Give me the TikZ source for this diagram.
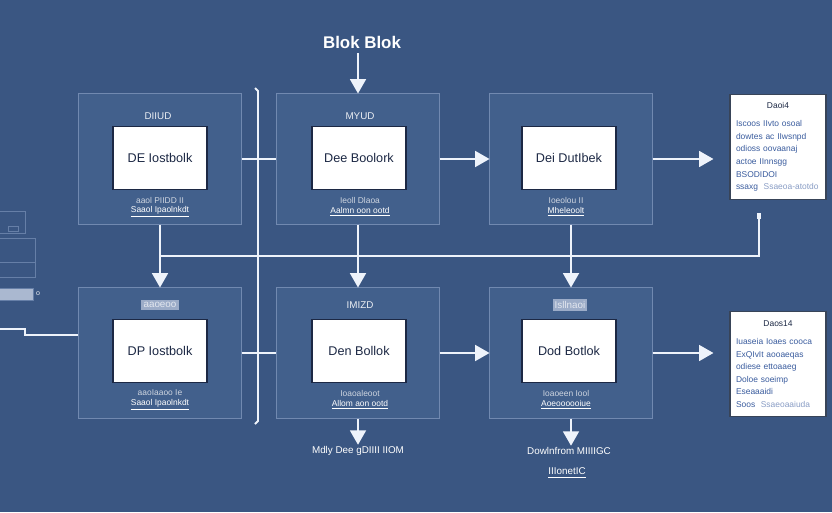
\documentclass[tikz,border=0pt]{standalone}
\usepackage{fontspec}
\setmainfont{Liberation Sans}
\usetikzlibrary{arrows.meta,positioning}
\definecolor{bgblue}{HTML}{3A5682}
\definecolor{panelblue}{HTML}{42608C}
\definecolor{edgeblue}{HTML}{7189B0}
\definecolor{inkblue}{HTML}{1C2844}
\definecolor{wireclr}{HTML}{EEF3FB}
\definecolor{notetext}{HTML}{3A5C9E}

\tikzset{
  panel/.style={rectangle, draw=edgeblue, fill=panelblue, line width=0.7pt,
                minimum width=4.05cm, minimum height=3.25cm},
  card/.style={rectangle, draw=inkblue, fill=white, line width=0.8pt,
               minimum width=2.35cm, minimum height=1.58cm,
               font=\small, text=inkblue},
  tag/.style={font=\scriptsize, text=white!90!bgblue, inner sep=1.5pt},
  caption/.style={font=\fontsize{6}{6.6}\selectfont, text=white, align=center, inner sep=1pt},
  note/.style={rectangle, draw=edgeblue!50!black, fill=white, line width=0.8pt,
               minimum width=2.4cm, minimum height=2.63cm, text width=2.1cm,
               font=\fontsize{6}{9}\selectfont, text=notetext},
  ghost/.style={draw=edgeblue!80!bgblue, line width=0.6pt},
  wire/.style={draw=wireclr, line width=1.3pt},
  flow/.style={wire, -{Triangle[length=3.6mm, width=4mm]}},
}

\begin{document}
\begin{tikzpicture}[x=0.025cm, y=-0.025cm]
  % canvas is 832 x 512 px, y runs downward
  \useasboundingbox (0,0) rectangle (832,512);
  \fill[bgblue] (0,0) rectangle (832,512);

  % title feeding the top middle block
  \node[font=\large\bfseries, text=white] (title) at (362,42) {Blok Blok};

  % two rows of blocks
  \node[panel] (blkA) at (160,159) {};
  \node[panel] (blkB) at (358,159) {};
  \node[panel] (blkC) at (571,159) {};
  \node[panel] (blkD) at (160,353) {};
  \node[panel] (blkE) at (358,353) {};
  \node[panel] (blkF) at (571,353) {};

  % white cards inside the blocks
  \node[card] (cardA) at (160,158) {DE Iostbolk};
  \node[card] (cardB) at (359,158) {Dee Boolork};
  \node[card] (cardC) at (569,158) {Dei DutIbek};
  \node[card] (cardD) at (160,351) {DP Iostbolk};
  \node[card] (cardE) at (359,351) {Den Bollok};
  \node[card] (cardF) at (569,351) {Dod Botlok};

  % header tags
  \node[tag] (tagA) at (158,116) {DIIUD};
  \node[tag] (tagB) at (360,116) {MYUD};
  \node[tag, fill=edgeblue!70, text=white!80!edgeblue] (tagD) at (160,305) {aaoeoo};
  \node[tag] (tagE) at (360,305) {IMIZD};
  \node[tag, fill=edgeblue!70, text=white!80!edgeblue] (tagF) at (570,305) {Isllnaoi};

  % captions below the cards
  \node[caption] (capA) at (160,207) {{\color{white!75!bgblue}aaol PIIDD II}\\\underline{Saaol Ipaolnkdt}};
  \node[caption] (capB) at (360,207) {{\color{white!75!bgblue}Ieoll Dlaoa}\\\underline{Aalmn oon ootd}};
  \node[caption] (capC) at (566,207) {{\color{white!75!bgblue}Ioeolou II}\\\underline{Mheleoolt}};
  \node[caption] (capD) at (160,400) {{\color{white!75!bgblue}aaoIaaoo Ie}\\\underline{Saaol Ipaolnkdt}};
  \node[caption] (capE) at (360,400) {{\color{white!75!bgblue}Ioaoaleoot}\\\underline{Allom aon ootd}};
  \node[caption] (capF) at (566,400) {{\color{white!75!bgblue}Ioaoeen Iool}\\\underline{Aoeoooooiue}};

  % notes on the right
  \node[note] (noteA) at (778,147) {\centering{\color{inkblue}Daoi4}\par\vspace{4pt}\raggedright
    Iscoos IIvto osoal\\dowtes ac IIwsnpd\\odioss oovaanaj\\actoe IInnsgg\\BSODIDOI\\ssaxg\hspace{4pt}{\color{notetext!60}Ssaeoa-atotdo}};
  \node[note] (noteB) at (778,364) {\centering{\color{inkblue}Daos14}\par\vspace{4pt}\raggedright
    Iuaseia Ioaes cooca\\ExQIvIt aooaeqas\\odiese ettoaaeg\\Doloe soeimp\\Eseaaaidi\\Soos\hspace{4pt}{\color{notetext!60}Ssaeoaaiuda}};

  % outputs below the bottom row
  \node[caption, font=\scriptsize] (outE) at (358,451) {Mdly Dee gDIIII IIOM};
  \node[caption, font=\scriptsize] (outF) at (569,451) {Dowlnfrom MIIIIGC};
  \node[caption, font=\scriptsize] (outF2) at (567,473) {\underline{IIIonetIC}};

  % faint widgets at the left edge
  \draw[ghost] (-1,211) rectangle (25,233);
  \draw[ghost] (8,226) rectangle (18,231);
  \draw[ghost] (-1,238) rectangle (35,277);
  \draw[ghost] (-1,262) -- (35,262);
  \draw[ghost, fill=edgeblue!60] (-1,288) rectangle (33,300);
  \node[tag, font=\tiny] (dotL) at (38,294) {o};

  % connectors
  \draw[flow] (blkB.north |- title.south) -- (blkB);
  \draw[wire] (blkA) -- (blkB);
  \draw[flow] (blkB) -- (blkC);
  \draw[flow, shorten >=0.4cm] (blkC.east) -- (noteA.west |- blkC.east);
  \draw[wire] (blkD) -- (blkE);
  \draw[flow] (blkE) -- (blkF);
  \draw[flow, shorten >=0.4cm] (blkF.east) -- (noteB.west |- blkF.east);
  \draw[flow] (blkA) -- (blkD);
  \draw[flow] (blkB) -- (blkE);
  \draw[flow] (blkC) -- (blkF);
  \draw[flow] (blkE) -- (outE);
  \draw[flow] (blkF.south) -- (blkF.south |- outF.north);

  % spine between the first two columns
  \draw[wire] (255,88) -- (258,91) -- (258,421) -- (255,424);

  % return bus from the top note
  \node[rectangle, fill=wireclr, minimum width=0.12cm, minimum height=0.14cm, inner sep=0pt] (busTap) at (759,216) {};
  \coordinate (busL) at (160,256);
  \draw[wire] (busTap.south) |- (busL);

  % feed from the left edge into the lower left block
  \coordinate (feedL) at (0,329);
  \draw[wire] (feedL) -- (25,329) -- (25,335) -- (blkD.west |- 0,335);
\end{tikzpicture}
\end{document}
